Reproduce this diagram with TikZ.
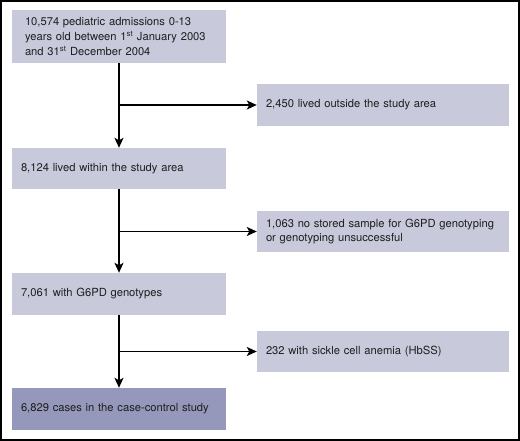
\documentclass[tikz,border=0pt]{standalone}
\usepackage{fontspec}
\setmainfont{TeX Gyre Heros}
\usepackage{tikz}
\usetikzlibrary{arrows.meta,positioning,calc}
\definecolor{boxlight}{RGB}{200,202,220}
\definecolor{boxdark}{RGB}{149,152,187}
\definecolor{textgray}{RGB}{30,30,30}
\hyphenpenalty=10000

\begin{document}
\begin{tikzpicture}[x=1pt, y=-1pt,
  flowbox/.style={fill=boxlight, draw=none, inner xsep=9pt, inner ysep=0pt, align=left,
    font=\fontsize{11.2}{14.8}\selectfont, text=textgray, anchor=center},
  leftbox/.style={flowbox, text width=196pt, minimum width=214pt},
  rightbox/.style={flowbox, text width=234pt, minimum width=252pt},
  flowarrow/.style={line width=1.5pt, -{Stealth[length=10pt, width=9pt, inset=2.5pt]}}]
  \useasboundingbox (0,0) rectangle (520,441);

  % Frame
  \draw[line width=2pt] (1,1) rectangle (519,440);

  % Main column
  \node[leftbox, minimum height=53pt, inner xsep=13pt, text width=188pt] (admitted) at (119,36.5)
    {10,574 pediatric admissions 0-13\\years old between 1\textsuperscript{st} January 2003\\and 31\textsuperscript{st} December 2004};
  \node[leftbox, minimum height=41pt] (within) at (119,168.5) {8,124 lived within the study area};
  \node[leftbox, minimum height=42pt] (genotyped) at (119,294) {7,061 with G6PD genotypes};
  \node[leftbox, minimum height=42pt, fill=boxdark] (cases) at (119,409) {6,829 cases in the case-control study};

  % Exclusions
  \node[rightbox, minimum height=42pt] (outside) at (383,105) {2,450 lived outside the study area};
  \node[rightbox, minimum height=41pt] (nosample) at (383,231.5)
    {1,063 no stored sample for G6PD genotyping\\or genotyping unsuccessful};
  \node[rightbox, minimum height=41pt] (sickle) at (383,351.5) {232 with sickle cell anemia (HbSS)};

  % Junctions
  \coordinate (j1) at (admitted.south |- outside.west);
  \coordinate (j2) at (within.south |- nosample.west);
  \coordinate (j3) at (genotyped.south |- sickle.west);

  % Arrows
  \draw[flowarrow] (admitted.south) -- (within.north);
  \draw[flowarrow] (within.south) -- (genotyped.north);
  \draw[flowarrow] (genotyped.south) -- (cases.north);
  \draw[flowarrow] (j1) -- (outside.west);
  \draw[flowarrow] (j2) -- (nosample.west);
  \draw[flowarrow] (j3) -- (sickle.west);
\end{tikzpicture}
\end{document}
